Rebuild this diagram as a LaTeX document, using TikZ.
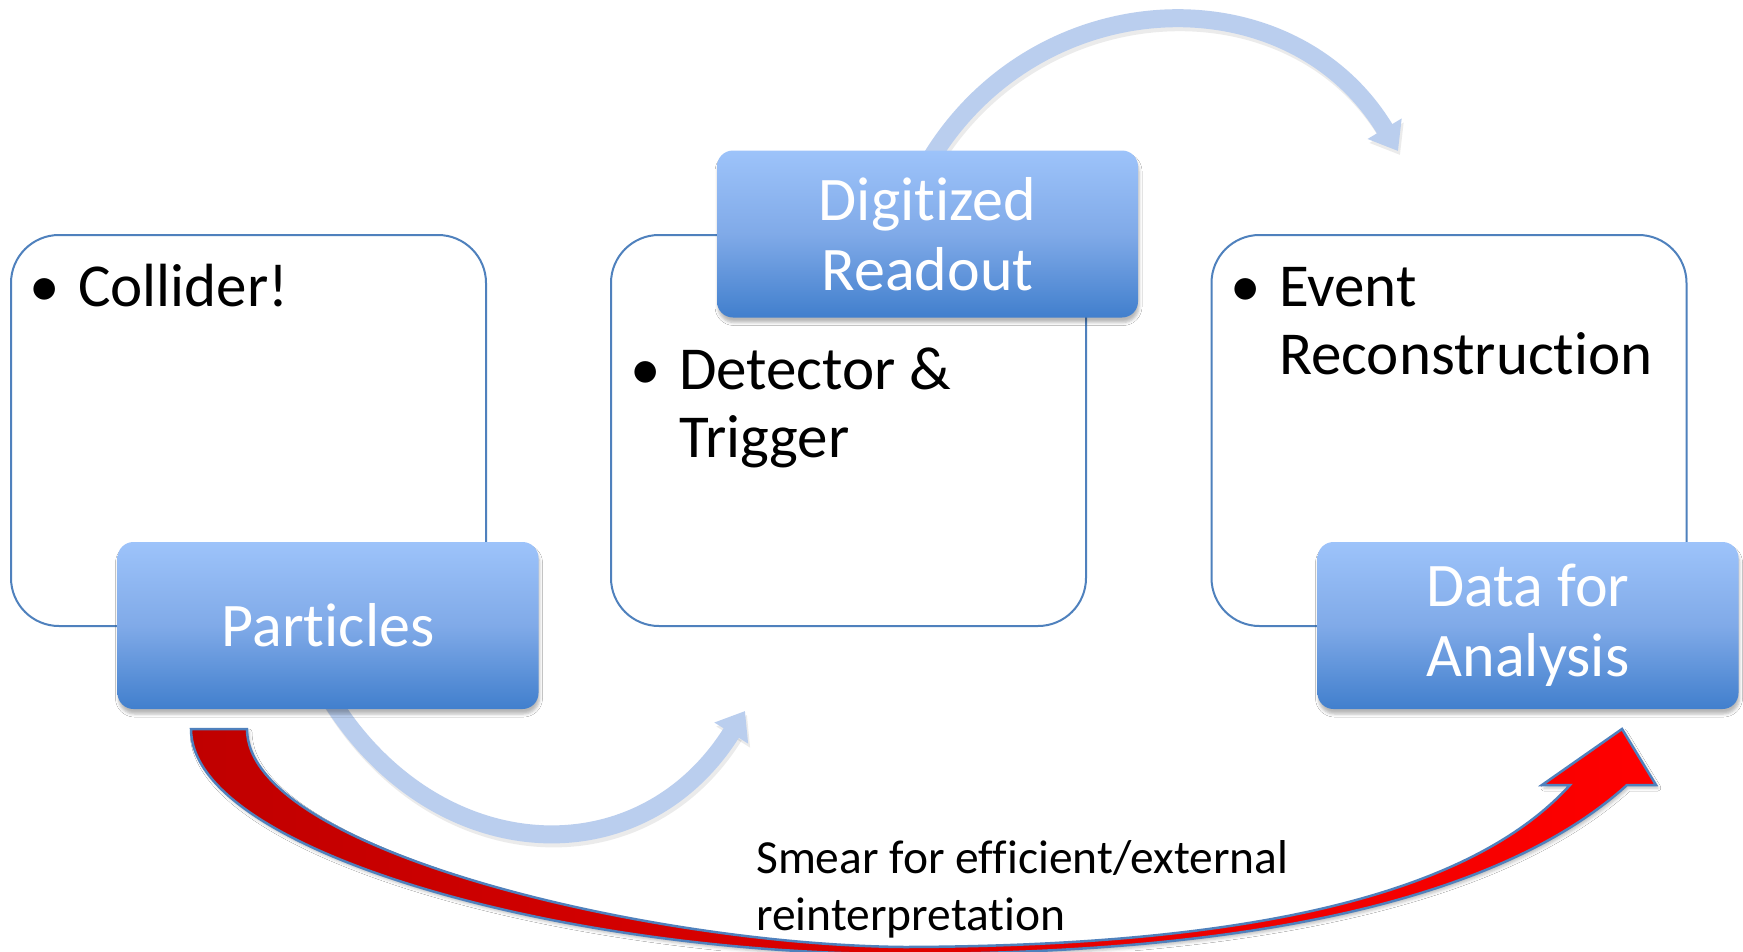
\documentclass[tikz,border=0pt]{standalone}
\usepackage{fontspec}
\setmainfont{Carlito}[Ligatures=NoCommon]
\usetikzlibrary{arrows.meta,shadows.blur}
\definecolor{boxline}{RGB}{79,129,189}
\definecolor{bluetop}{RGB}{157,195,250}
\definecolor{bluemid}{RGB}{128,170,232}
\definecolor{bluebot}{RGB}{65,127,205}
\definecolor{lightarrow}{RGB}{186,206,238}
\definecolor{darkred}{RGB}{192,0,0}
\definecolor{brightred}{RGB}{255,0,0}
\begin{document}
\begin{tikzpicture}[x=1pt,y=1pt,
  whitebox/.style={draw=boxline, line width=2pt, fill=white, rounded corners=48pt,
    minimum width=475pt, minimum height=391pt, inner sep=0pt},
  bluebox/.style={rounded corners=16pt, minimum width=421pt, minimum height=167pt,
    inner sep=0pt, top color=bluetop, bottom color=bluebot, middle color=bluemid,
    text=white, align=center, font=\fontsize{62}{70}\selectfont,
    blur shadow={shadow xshift=1pt, shadow yshift=-5pt, shadow blur radius=3pt, shadow opacity=28}},
  itemtext/.style={anchor=base west, inner sep=0pt, font=\fontsize{61}{68}\selectfont},
  flowarrow/.style={line width=18pt, draw=lightarrow, -{Triangle[length=26pt,width=38pt]}},
  flowshadow/.style={line width=18pt, draw=black, opacity=0.08, -{Triangle[length=26pt,width=38pt]}},
  redarrow/.style={draw=boxline, line width=2.5pt, line join=miter, left color=darkred, right color=brightred,
    blur shadow={shadow xshift=2pt, shadow yshift=-3pt, shadow blur radius=3pt, shadow opacity=25}}
]
\useasboundingbox (0,0) rectangle (1743,-951);
\clip (0,0) rectangle (1743,-951);
\fill[white] (0,0) rectangle (1743,-951);

% white boxes
\node[whitebox] (left)  at (248.5,-430.5) {};
\node[whitebox] (mid)   at (848.5,-430.5) {};
\node[whitebox] (right) at (1449,-430.5) {};

% light arrows
\coordinate (ups) at (930,-160);
\coordinate (upe) at (1398,-151);
\coordinate (los) at (331,-700);
\coordinate (loe) at (745,-711);
\draw[flowshadow, transform canvas={shift={(2pt,-4pt)}}] (ups) to[out=59, in=121, looseness=1.14] (upe);
\draw[flowshadow, transform canvas={shift={(2pt,-4pt)}}] (los) to[out=-58, in=238, looseness=1.22] (loe);
\draw[flowarrow] (ups) to[out=59, in=121, looseness=1.14] (upe);
\draw[flowarrow] (los) to[out=-58, in=238, looseness=1.22] (loe);

% red block arrow
\path[redarrow]
  (191,-729) .. controls (191,-850) and (560,-954) .. (900,-954)
  .. controls (1250,-954) and (1500,-900) .. (1627,-785)
  -- (1656,-785) -- (1622,-729) -- (1542,-785) -- (1570,-785)
  .. controls (1470,-895) and (1250,-946) .. (905,-947)
  .. controls (650,-945) and (247,-850) .. (247,-729) -- cycle;

% blue boxes
\node[bluebox] (part)  at (328,-625.5) {Particles};
\node[bluebox] (digit) at (927.5,-234) {Digitized\\Readout};
\node[bluebox] (data)  at (1528,-625.5) {Data for\\Analysis};

% bullet texts
\node[itemtext] (collider) at (10,-306)
  {\begin{tabular}[t]{@{}l@{}l@{}}\makebox[68pt]{\textbullet}&Collider!\end{tabular}};
\node[itemtext] (detector) at (611,-389)
  {\begin{tabular}[t]{@{}l@{}l@{}}\makebox[68pt]{\textbullet}&Detector \&\\&Trigger\end{tabular}};
\node[itemtext] (event) at (1211,-306)
  {\begin{tabular}[t]{@{}l@{}l@{}}\makebox[68pt]{\textbullet}&Event\\&Reconstruction\end{tabular}};

% bottom label
\node[anchor=base west, inner sep=0pt, font=\fontsize{47.5}{57}\selectfont] (smear) at (756,-873)
  {\begin{tabular}[t]{@{}l@{}}Smear for efficient/external\\reinterpretation\end{tabular}};
\end{tikzpicture}
\end{document}
